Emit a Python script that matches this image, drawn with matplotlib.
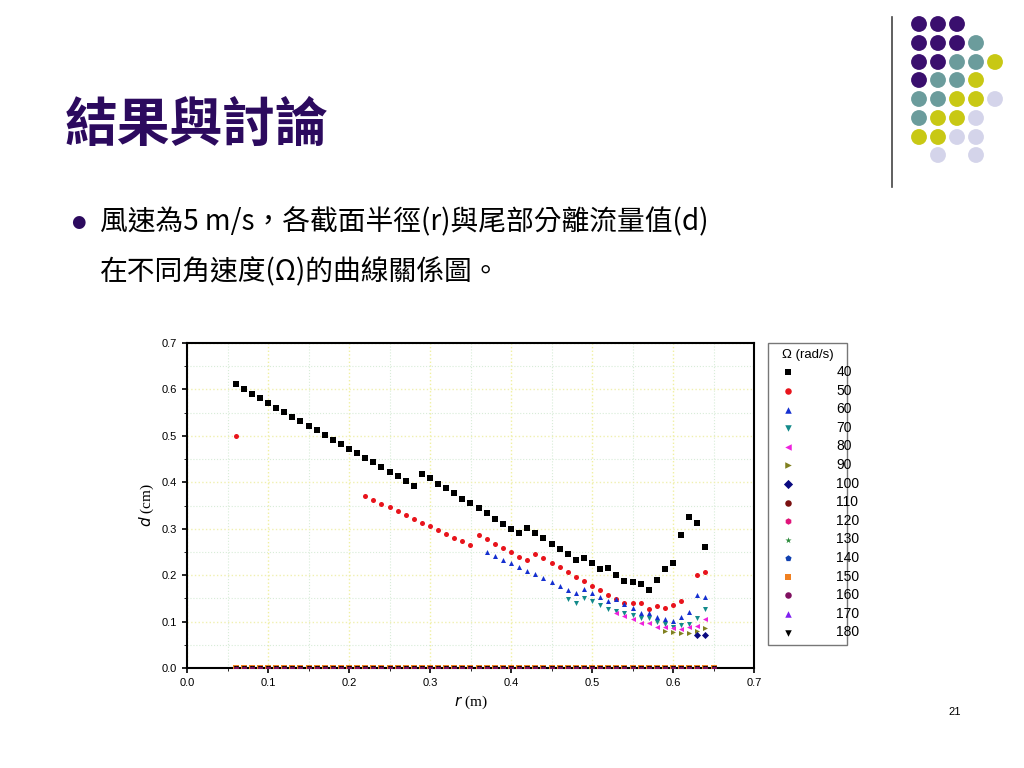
import matplotlib
matplotlib.use("Agg")
import matplotlib.pyplot as plt
import numpy as np

plt.rcParams['font.family'] = ['Noto Sans CJK TC', 'DejaVu Sans']

# --- data ---
r40 = np.round(np.arange(0.06, 0.645, 0.01), 2)
d40 = [0.611, 0.601, 0.591, 0.581, 0.571, 0.561, 0.551, 0.541, 0.532, 0.522,
       0.512, 0.502, 0.492, 0.483, 0.472, 0.463, 0.453, 0.443, 0.433, 0.423,
       0.414, 0.403, 0.393, 0.418, 0.409, 0.397, 0.387, 0.376,
       0.365, 0.355, 0.344, 0.333, 0.322, 0.311, 0.300, 0.290, 0.302, 0.291,
       0.279, 0.267, 0.256, 0.245, 0.233, 0.238, 0.226, 0.213, 0.215, 0.201,
       0.188, 0.186, 0.182, 0.168, 0.189, 0.214, 0.227, 0.286, 0.325, 0.312, 0.261]

r50 = [0.06] + list(np.round(np.arange(0.22, 0.615, 0.01), 2)) + [0.63, 0.64]
d50 = [0.50,
       0.370, 0.362, 0.354, 0.346, 0.338, 0.330, 0.322, 0.313, 0.306, 0.297,
       0.289, 0.281, 0.273, 0.266, 0.286, 0.277, 0.268, 0.259, 0.250, 0.240,
       0.233, 0.246, 0.236, 0.226, 0.217, 0.207, 0.196, 0.187, 0.177, 0.168,
       0.157, 0.149, 0.139, 0.139, 0.139, 0.128, 0.134, 0.129, 0.136, 0.144,
       0.200, 0.206]

r60 = np.round(np.arange(0.37, 0.645, 0.01), 2)
d60 = [0.250, 0.241, 0.233, 0.226, 0.218, 0.210, 0.202, 0.194, 0.185, 0.177,
       0.169, 0.162, 0.170, 0.162, 0.153, 0.144, 0.149, 0.138, 0.129, 0.119,
       0.119, 0.109, 0.106, 0.101, 0.109, 0.120, 0.157, 0.154]

r70 = np.round(np.arange(0.47, 0.645, 0.01), 2)
d70 = [0.149, 0.141, 0.151, 0.144, 0.135, 0.127, 0.122, 0.118, 0.114, 0.107,
       0.107, 0.099, 0.094, 0.089, 0.092, 0.095, 0.108, 0.127]

r80 = np.round(np.arange(0.53, 0.645, 0.01), 2)
d80 = [0.119, 0.112, 0.105, 0.096, 0.096, 0.089, 0.089, 0.086, 0.085, 0.088,
       0.090, 0.106]

r90 = [0.59, 0.60, 0.61, 0.62, 0.63, 0.64]
d90 = [0.080, 0.078, 0.076, 0.075, 0.079, 0.086]

r100 = [0.63, 0.64]
d100 = [0.071, 0.071]

r_zero = np.round(np.arange(0.06, 0.655, 0.01), 2)

omegas = ['40', '50', '60', '70', '80', '90', '100', '110', '120', '130',
          '140', '150', '160', '170', '180']
colors = ['black', '#e8141c', '#1530d0', '#138a8a', '#ee22dd', '#808020',
          '#0a0a80', '#7a1010', '#e0147a', '#2a8a3a', '#1040b0', '#f08020',
          '#801060', '#8020f0', 'black']
markers = ['s', 'o', '^', 'v', '<', '>', 'D', 'o', 'h', '*', 'p', 's', 'o', '^', 'v']

fig = plt.figure(figsize=(10.24, 7.68), dpi=100)

# slide title and text
purple = '#2c0a5e'
fig.text(65 / 1024, 1 - 125 / 768, '結果與討論', fontsize=38, fontweight='bold',
         color=purple, va='center')
fig.text(78 / 1024, 1 - 222 / 768, '●', fontsize=12, color=purple, va='center',
         ha='center', family=['DejaVu Sans'])
fig.text(100 / 1024, 1 - 222 / 768, '風速為5 m/s，各截面半徑(r)與尾部分離流量值(d)',
         fontsize=20, va='center')
fig.text(100 / 1024, 1 - 272 / 768, '在不同角速度(Ω)的曲線關係圖。', fontsize=20,
         va='center')
fig.text(955 / 1024, 1 - 712 / 768, '21', fontsize=8, va='center', ha='center',
         family=['Liberation Sans'])

# decorative dots
dot_cols = {'P': '#3a0f6e', 'T': '#6b9c9c', 'Y': '#c8c814', 'L': '#d4d4ea'}
dot_grid = ['PPP..', 'PPPT.', 'PPTTY', 'PTTY.', 'TTYYL', 'TYYL.', 'YYLL.', '.L.L.']
col_x = [919, 938, 957, 976, 995]
row_y = [24, 43, 62, 80, 99, 118, 137, 155]
deco = fig.add_axes([0, 0, 1, 1], zorder=-1)
deco.set_xlim(0, 1024)
deco.set_ylim(768, 0)
deco.axis('off')
for yy, row in zip(row_y, dot_grid):
    for xx, c in zip(col_x, row):
        if c != '.':
            deco.scatter(xx, yy, s=130, color=dot_cols[c], edgecolors='none')
deco.plot([892, 892], [17, 187], color='#444444', lw=1.2)

# chart
ax = fig.add_axes([187 / 1024, 1 - 668 / 768, 567 / 1024, 325 / 768])
series = [(r40, d40), (r50, d50), (r60, d60), (r70, d70), (r80, d80),
          (r90, d90), (r100, d100)]
for i, lab in enumerate(omegas):
    if i < len(series):
        x, y = series[i]
    else:
        x, y = r_zero, np.zeros(len(r_zero))
    ax.scatter(x, y, marker=markers[i], color=colors[i], s=13, label=lab,
               linewidths=0, zorder=3)
# zero rows for the low-speed sets too
ax.scatter(r_zero, np.zeros(len(r_zero)), marker='o', color='#801060', s=7,
           linewidths=0, zorder=3)

ax.set_xlim(0, 0.7)
ax.set_ylim(0, 0.7)
ax.set_xticks(np.arange(0, 0.71, 0.1))
ax.set_yticks(np.arange(0, 0.71, 0.1))
ax.set_xticks(np.arange(0.05, 0.7, 0.1), minor=True)
ax.set_yticks(np.arange(0.05, 0.7, 0.1), minor=True)
ax.set_xticklabels([f'{v:.1f}' for v in np.arange(0, 0.71, 0.1)],
                   family=['Liberation Sans'])
ax.set_yticklabels([f'{v:.1f}' for v in np.arange(0, 0.71, 0.1)],
                   family=['Liberation Sans'])
ax.tick_params(labelsize=8, direction='out', width=1.2)
ax.tick_params(which='minor', direction='out')
ax.grid(True, which='major', axis='x', color='#f0f0a0', ls=':', lw=1)
ax.grid(True, which='major', axis='y', color='#f0f0b0', ls=':', lw=1)
ax.grid(True, which='minor', color='#d8ecd8', ls=':', lw=0.8)
for sp in ax.spines.values():
    sp.set_linewidth(1.5)
ax.set_xlabel('$r$ (m)', fontsize=11, family=['Liberation Serif'])
ax.set_ylabel('$d$ (cm)', fontsize=11, family=['Liberation Serif'])

leg = ax.legend(title='Ω (rad/s)', loc='upper left', bbox_to_anchor=(1.025, 1.0),
                fontsize=10, title_fontsize=9.5, markerscale=1.3, handletextpad=1.2,
                labelspacing=0.33, borderaxespad=0, fancybox=False,
                edgecolor='#555555', prop={'family': ['Liberation Sans'], 'size': 10})
leg.get_title().set_family(['Liberation Sans'])
for t in leg.get_texts():
    t.set_ha('right')
    t.set_position((18, 0))

fig.savefig('out.png', dpi=100)
